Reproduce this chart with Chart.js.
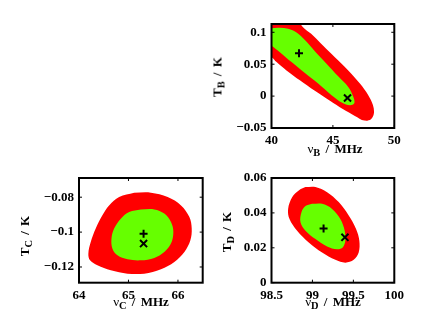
<!DOCTYPE html>
<html lang="en">
<head>
<meta charset="UTF-8">
<title>Contours</title>
<script src="https://cdn.jsdelivr.net/npm/chart.js"></script>
<style>
  body { margin: 0; background: #fff; }
  #wrap { position: relative; width: 436px; height: 328px; overflow: hidden; }
  canvas { position: absolute; left: 0; top: 0; }
  .lbl {
    position: absolute; font-family: 'Liberation Serif', serif; font-weight: bold;
    font-size: 13px; line-height: 13px; white-space: nowrap; color: #000; word-spacing: 2px;
  }
  .lbl sub { font-size: 0.8em; vertical-align: -0.3em; line-height: 0; }
  .nu { font-weight: normal; }
  .xl { transform: translateX(-50%); }
  .yl { transform: translate(-50%, -50%) rotate(-90deg); }
</style>
</head>
<body>
<div id="wrap">
  <canvas id="panelB" width="436" height="328"></canvas>
  <canvas id="panelC" width="436" height="328"></canvas>
  <canvas id="panelD" width="436" height="328"></canvas>

  <div class="lbl xl" style="left:335px; top:142px"><span class="nu">ν</span><sub>B</sub> / MHz</div>
  <div class="lbl yl" style="left:217px; top:77px">T<sub>B</sub> / K</div>

  <div class="lbl xl" style="left:141px; top:295px"><span class="nu">ν</span><sub>C</sub> / MHz</div>
  <div class="lbl yl" style="left:24px; top:236px">T<sub>C</sub> / K</div>

  <div class="lbl xl" style="left:333px; top:295px"><span class="nu">ν</span><sub>D</sub> / MHz</div>
  <div class="lbl yl" style="left:226px; top:232px">T<sub>D</sub> / K</div>
</div>

<script>
// panel B
const bRedNu = [39.0, 41.9, 42.72, 43.40, 44.21, 45.16, 46.25, 47.20, 47.88, 48.26, 48.34, 48.10, 47.56, 46.79, 45.84, 44.76, 43.53, 42.31, 41.22, 40.41, 40.0, 39.0, 39.0];
const bRedT = [0.13, 0.12, 0.105, 0.0947, 0.0791, 0.061, 0.0403, 0.0196, 0.0015, -0.014, -0.027, -0.0363, -0.0384, -0.0311, -0.0208, -0.0073, 0.0082, 0.0248, 0.0403, 0.0533, 0.061, 0.07, 0.13];
const bGreenNu = [39.0, 40.54, 41.36, 42.04, 42.72, 43.53, 44.48, 45.43, 46.25, 46.66, 46.74, 46.39, 45.76, 44.89, 43.80, 42.72, 41.63, 40.68, 40.0, 39.0, 39.0];
const bGreenT = [0.104, 0.1071, 0.1055, 0.0998, 0.0879, 0.0703, 0.0507, 0.031, 0.0144, -0.0011, -0.0114, -0.0145, -0.0104, 0.0015, 0.0196, 0.0362, 0.0533, 0.0688, 0.0791, 0.09, 0.104];
const bMarkNu = [42.24, 46.19];
const bMarkT = [0.067, -0.003];
const bTicksNu = [40, 45, 50];
const bTicksT = [-0.05, 0, 0.05, 0.1];

// panel C
const cRedNu = [65.116, 65.454, 65.792, 66.062, 66.231, 66.278, 66.251, 66.130, 65.927, 65.657, 65.318, 64.980, 64.642, 64.372, 64.223, 64.189, 64.237, 64.338, 64.473, 64.608, 64.811, 65.116];
const cRedT = [-0.0774, -0.0774, -0.0799, -0.0847, -0.0914, -0.098, -0.1047, -0.1114, -0.1171, -0.1213, -0.1238, -0.1238, -0.1219, -0.119, -0.1162, -0.1124, -0.1057, -0.098, -0.0904, -0.0847, -0.0799, -0.0774];
const cGreenNu = [65.251, 65.521, 65.724, 65.859, 65.907, 65.859, 65.724, 65.521, 65.251, 64.980, 64.777, 64.676, 64.656, 64.710, 64.845, 65.014, 65.251];
const cGreenT = [-0.087, -0.087, -0.0894, -0.0942, -0.0999, -0.1066, -0.1114, -0.1148, -0.1162, -0.1156, -0.1133, -0.1095, -0.1038, -0.098, -0.0923, -0.0885, -0.087];
const cMarkNu = [65.305, 65.305];
const cMarkT = [-0.1009, -0.1066];
const cTicksNu = [64, 65, 66];
const cTicksT = [-0.12, -0.1, -0.08];

// panel D
const dRedNu = [98.915, 99.037, 99.179, 99.321, 99.443, 99.533, 99.573, 99.565, 99.504, 99.402, 99.280, 99.118, 98.955, 98.813, 98.720, 98.703, 98.752, 98.833, 98.915];
const dRedT = [0.0548, 0.0548, 0.0519, 0.0462, 0.0385, 0.0308, 0.024, 0.0173, 0.0131, 0.0115, 0.0131, 0.0173, 0.0231, 0.0298, 0.0365, 0.0423, 0.049, 0.0529, 0.0548];
const dGreenNu = [98.996, 99.118, 99.240, 99.341, 99.394, 99.402, 99.370, 99.301, 99.179, 99.037, 98.915, 98.854, 98.866, 98.915, 98.996];
const dGreenT = [0.0452, 0.0452, 0.0423, 0.0365, 0.0298, 0.024, 0.0202, 0.0192, 0.0208, 0.025, 0.0298, 0.0346, 0.0404, 0.0439, 0.0452];
const dMarkNu = [99.136, 99.397];
const dMarkT = [0.031, 0.026];
const dTicksNu = [98.5, 99, 99.5, 100];
const dTicksT = [0, 0.02, 0.04, 0.06];

const RED = '#ff0000';
const GREEN = '#66ff00';
const tickFont = { family: "'Liberation Serif', 'Times New Roman', serif", weight: 'bold', size: 13 };

function zip(xs, ys) {
    return xs.map((x, i) => ({ x: x, y: ys[i] }));
}

function fmt(v) {
    const s = String(+Math.abs(v).toFixed(3));
    return v < 0 ? '\u2212' + s : s;
}

// box round the axes, with small ticks pointing inwards (all four sides)
const boxPlugin = {
    id: 'box',
    afterDatasetsDraw(chart) {
        const { ctx, chartArea: a, scales } = chart;
        ctx.save();
        ctx.strokeStyle = '#000';
        ctx.lineWidth = 1;
        ctx.beginPath();
        scales.x.ticks.forEach(t => {
            const px = scales.x.getPixelForValue(t.value);
            ctx.moveTo(px, a.bottom); ctx.lineTo(px, a.bottom - 3);
            ctx.moveTo(px, a.top); ctx.lineTo(px, a.top + 3);
        });
        scales.y.ticks.forEach(t => {
            const py = scales.y.getPixelForValue(t.value);
            ctx.moveTo(a.left, py); ctx.lineTo(a.left + 3, py);
            ctx.moveTo(a.right, py); ctx.lineTo(a.right - 3, py);
        });
        ctx.stroke();
        ctx.lineWidth = 2;
        ctx.strokeRect(a.left, a.top, a.right - a.left, a.bottom - a.top);
        ctx.restore();
    }
};

function region(nu, t, color) {
    return {
        data: zip(nu, t),
        showLine: true,
        fill: 'shape',
        backgroundColor: color,
        borderColor: 'rgba(0,0,0,0)',
        borderWidth: 0,
        pointRadius: 0,
        tension: 0.35
    };
}

function makePanel(id, p) {
    new Chart(document.getElementById(id), {
        type: 'scatter',
        data: {
            datasets: [
                {
                    data: zip(p.markNu, p.markT),
                    pointStyle: ['cross', 'crossRot'],
                    pointRadius: [4, 5],
                    pointBorderColor: '#000',
                    pointBorderWidth: 2,
                    showLine: false
                },
                region(p.greenNu, p.greenT, GREEN),
                region(p.redNu, p.redT, RED)
            ]
        },
        options: {
            responsive: false,
            animation: false,
            events: [],
            layout: { padding: p.pad },
            plugins: { legend: { display: false }, tooltip: { enabled: false } },
            scales: {
                x: {
                    min: p.xMin, max: p.xMax,
                    afterBuildTicks: s => { s.ticks = p.xTicks.map(v => ({ value: v })); },
                    afterFit: s => { s.height = 30; },
                    grid: { display: false, drawTicks: false },
                    border: { display: false },
                    ticks: { autoSkip: false, maxRotation: 0, padding: 5, color: '#000', font: tickFont, callback: fmt }
                },
                y: {
                    min: p.yMin, max: p.yMax,
                    afterBuildTicks: s => { s.ticks = p.yTicks.map(v => ({ value: v })); },
                    afterFit: s => { s.width = 50; },
                    grid: { display: false, drawTicks: false },
                    border: { display: false },
                    ticks: { autoSkip: false, padding: 5, color: '#000', font: tickFont, callback: fmt }
                }
            }
        },
        plugins: [boxPlugin]
    });
}

makePanel('panelB', {
    redNu: bRedNu, redT: bRedT, greenNu: bGreenNu, greenT: bGreenT, markNu: bMarkNu, markT: bMarkT,
    xTicks: bTicksNu, yTicks: bTicksT, xMin: 40, xMax: 50, yMin: -0.05, yMax: 0.113,
    pad: { left: 221.5, top: 24, right: 41.7, bottom: 170 }
});
makePanel('panelC', {
    redNu: cRedNu, redT: cRedT, greenNu: cGreenNu, greenT: cGreenT, markNu: cMarkNu, markT: cMarkT,
    xTicks: cTicksNu, yTicks: cTicksT, xMin: 64, xMax: 66.5, yMin: -0.129, yMax: -0.069,
    pad: { left: 29, top: 178, right: 233.3, bottom: 15.3 }
});
makePanel('panelD', {
    redNu: dRedNu, redT: dRedT, greenNu: dGreenNu, greenT: dGreenT, markNu: dMarkNu, markT: dMarkT,
    xTicks: dTicksNu, yTicks: dTicksT, xMin: 98.5, xMax: 100, yMin: 0, yMax: 0.06,
    pad: { left: 221.5, top: 178, right: 41.7, bottom: 15.3 }
});
</script>
</body>
</html>
